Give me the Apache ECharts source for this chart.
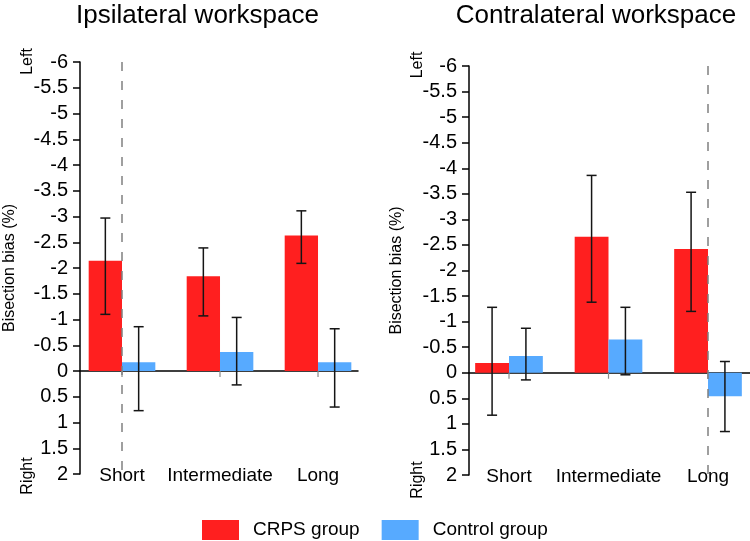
<!DOCTYPE html>
<html>
<head>
<meta charset="utf-8">
<script src="https://cdn.jsdelivr.net/npm/echarts@6/dist/echarts.min.js"></script>
<style>
html,body{margin:0;padding:0;background:#fff;}
#chart{width:750px;height:541px;}
</style>
</head>
<body>
<div id="chart"></div>
<script>
// ---- data ----
const categories = ['Short', 'Intermediate', 'Long'];
const panelTitles = ['Ipsilateral workspace', 'Contralateral workspace'];
const seriesNames = ['CRPS group', 'Control group'];
const yTickMin = -6, yTickMax = 2, yTickStep = 0.5;

// Ipsilateral workspace
const ipsiCRPS = [-2.14, -1.84, -2.63];
const ipsiCRPSErrLeft = [-2.97, -2.39, -3.11];
const ipsiCRPSErrRight = [-1.10, -1.07, -2.09];
const ipsiControl = [-0.17, -0.37, -0.17];
const ipsiControlErrLeft = [-0.86, -1.04, -0.82];
const ipsiControlErrRight = [0.77, 0.27, 0.70];

// Contralateral workspace
const contraCRPS = [-0.19, -2.66, -2.42];
const contraCRPSErrLeft = [-1.28, -3.86, -3.53];
const contraCRPSErrRight = [0.83, -1.38, -1.20];
const contraControl = [-0.33, -0.65, 0.46];
const contraControlErrLeft = [-0.87, -1.28, -0.22];
const contraControlErrRight = [0.14, 0.04, 1.15];

// dashed reference line category index per panel
const dashedCategory = [0, 2];

// ---- styling ----
const FONT = "'Liberation Sans', Arial, Helvetica, sans-serif";
const RED = '#ff1f1f';
const BLUE = '#57aaff';
const BAR_W = 0.34; // fraction of category spacing

const chart = echarts.init(document.getElementById('chart'), null, {renderer: 'canvas'});

function barRender(side) {
  return function (params, api) {
    const i = api.value(0), v = api.value(1);
    const x0 = side < 0 ? i - BAR_W : i;
    const x1 = side < 0 ? i : i + BAR_W;
    const p0 = api.coord([x0, 0]);
    const p1 = api.coord([x1, v]);
    return {
      type: 'rect',
      shape: {
        x: Math.min(p0[0], p1[0]), y: Math.min(p0[1], p1[1]),
        width: Math.abs(p1[0] - p0[0]), height: Math.abs(p1[1] - p0[1])
      },
      style: {fill: api.visual('color')}
    };
  };
}

function errRender(side) {
  return function (params, api) {
    const i = api.value(0);
    const xc = i + side * BAR_W / 2;
    const a = api.coord([xc, api.value(1)]);
    const b = api.coord([xc, api.value(2)]);
    const cap = 5;
    const st = {stroke: '#151515', lineWidth: 1.5};
    return {
      type: 'group',
      children: [
        {type: 'line', shape: {x1: a[0], y1: a[1], x2: b[0], y2: b[1]}, style: st},
        {type: 'line', shape: {x1: a[0] - cap, y1: a[1], x2: a[0] + cap, y2: a[1]}, style: st},
        {type: 'line', shape: {x1: b[0] - cap, y1: b[1], x2: b[0] + cap, y2: b[1]}, style: st}
      ]
    };
  };
}

function labelRender(params, api) {
  const i = api.value(0);
  const pBottom = api.coord([i, yTickMax]);
  const pZero = api.coord([i, 0]);
  return {
    type: 'group',
    children: [
      {type: 'line', shape: {x1: pZero[0], y1: pZero[1], x2: pZero[0], y2: pZero[1] + 6},
       style: {stroke: '#8a8a8a', lineWidth: 1.2}},
      {type: 'text', style: {
        text: categories[i], x: pBottom[0], y: pBottom[1] + 2,
        align: 'center', verticalAlign: 'middle',
        textAlign: 'center', textVerticalAlign: 'middle',
        fontSize: 19, fontFamily: FONT, fill: '#000'
      }}
    ]
  };
}

const grids = [
  {left: 80, top: 62, width: 278, height: 412},
  {left: 469, top: 66, width: 281, height: 409}
];
const xRanges = [[-0.4286, 2.408], [-0.402, 2.422]];

const panels = [
  {crps: ipsiCRPS, crpsL: ipsiCRPSErrLeft, crpsR: ipsiCRPSErrRight,
   ctrl: ipsiControl, ctrlL: ipsiControlErrLeft, ctrlR: ipsiControlErrRight},
  {crps: contraCRPS, crpsL: contraCRPSErrLeft, crpsR: contraCRPSErrRight,
   ctrl: contraControl, ctrlL: contraControlErrLeft, ctrlR: contraControlErrRight}
];

const xAxes = [], yAxes = [], series = [];
panels.forEach(function (p, k) {
  xAxes.push({
    type: 'value', gridIndex: k, min: xRanges[k][0], max: xRanges[k][1],
    axisLine: {show: true, onZero: true, lineStyle: {color: '#000', width: 1.5}},
    axisTick: {show: false}, axisLabel: {show: false}, splitLine: {show: false}
  });
  yAxes.push({
    type: 'value', gridIndex: k, inverse: true,
    min: yTickMin, max: yTickMax, interval: yTickStep,
    name: 'Bisection bias (%)', nameLocation: 'middle', nameRotate: 90, nameGap: k === 0 ? 62 : 64,
    nameTextStyle: {fontSize: 16, fontFamily: FONT, color: '#000'},
    axisLine: {show: true, onZero: false, lineStyle: {color: '#000', width: 1.5}},
    axisTick: {show: true, length: 7, lineStyle: {color: '#000', width: 1.5}},
    axisLabel: {fontSize: 20, fontFamily: FONT, color: '#000', margin: 12},
    splitLine: {show: false}
  });
  const idx = categories.map(function (c, i) { return i; });
  series.push({
    type: 'custom', xAxisIndex: k, yAxisIndex: k, z: 1, silent: true,
    data: idx.map(function (i) { return [i]; }),
    renderItem: labelRender,
    markLine: {
      silent: true, symbol: 'none', label: {show: false},
      lineStyle: {type: [9, 10], color: '#808080', width: 1.5},
      data: [{xAxis: dashedCategory[k]}]
    }
  });
  series.push({
    type: 'custom', name: seriesNames[0], xAxisIndex: k, yAxisIndex: k, z: 2,
    itemStyle: {color: RED},
    data: idx.map(function (i) { return [i, p.crps[i]]; }),
    renderItem: barRender(-1)
  });
  series.push({
    type: 'custom', name: seriesNames[1], xAxisIndex: k, yAxisIndex: k, z: 2,
    itemStyle: {color: BLUE},
    data: idx.map(function (i) { return [i, p.ctrl[i]]; }),
    renderItem: barRender(1)
  });
  series.push({
    type: 'custom', xAxisIndex: k, yAxisIndex: k, z: 3, silent: true,
    data: idx.map(function (i) { return [i, p.crpsL[i], p.crpsR[i]]; }),
    renderItem: errRender(-1)
  });
  series.push({
    type: 'custom', xAxisIndex: k, yAxisIndex: k, z: 3, silent: true,
    data: idx.map(function (i) { return [i, p.ctrlL[i], p.ctrlR[i]]; }),
    renderItem: errRender(1)
  });
});

function sideText(text, x, y) {
  return {type: 'text', x: x, y: y, rotation: Math.PI / 2,
    style: {text: text, align: 'center', verticalAlign: 'middle',
      textAlign: 'center', textVerticalAlign: 'middle',
      fontSize: 16, fontFamily: FONT, fill: '#000'}};
}
function titleText(text, x) {
  return {type: 'text', x: x, y: 16,
    style: {text: text, align: 'center', verticalAlign: 'middle',
      textAlign: 'center', textVerticalAlign: 'middle',
      fontSize: 26, fontFamily: FONT, fill: '#000'}};
}

chart.setOption({
  animation: false,
  backgroundColor: '#fff',
  grid: grids,
  xAxis: xAxes,
  yAxis: yAxes,
  legend: {
    data: seriesNames, left: 202, top: 520, padding: 0,
    itemWidth: 37, itemHeight: 20, itemGap: 22, icon: 'rect',
    textStyle: {fontSize: 19, fontFamily: FONT, color: '#000', padding: [0, 0, 0, 9]}
  },
  graphic: [
    titleText(panelTitles[0], 197.5),
    titleText(panelTitles[1], 596),
    sideText('Left', 27.5, 61.5),
    sideText('Right', 27.5, 476),
    sideText('Left', 417.5, 65),
    sideText('Right', 417.5, 480)
  ],
  series: series
});
</script>
</body>
</html>
